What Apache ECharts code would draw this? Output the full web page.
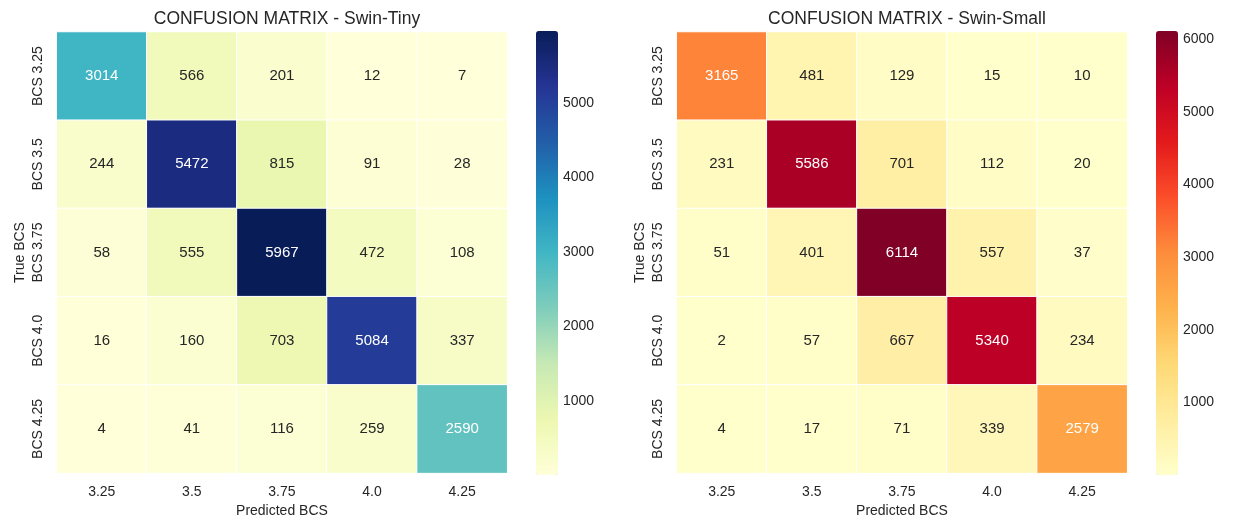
<!DOCTYPE html>
<html>
<head>
<meta charset="utf-8">
<script src="https://cdn.jsdelivr.net/npm/echarts@6/dist/echarts.min.js"></script>
<style>
  html, body { margin: 0; padding: 0; background: #ffffff; }
  #chart { width: 1240px; height: 523px; }
</style>
</head>
<body>
<div id="chart"></div>
<script>
// Class labels
const predLabels = ['3.25', '3.5', '3.75', '4.0', '4.25'];
const trueLabels = ['BCS 3.25', 'BCS 3.5', 'BCS 3.75', 'BCS 4.0', 'BCS 4.25'];

// Confusion matrices (rows = true class, columns = predicted class)
const swinTiny = [
  [3014, 566, 201, 12, 7],
  [244, 5472, 815, 91, 28],
  [58, 555, 5967, 472, 108],
  [16, 160, 703, 5084, 337],
  [4, 41, 116, 259, 2590]
];
const swinSmall = [
  [3165, 481, 129, 15, 10],
  [231, 5586, 701, 112, 20],
  [51, 401, 6114, 557, 37],
  [2, 57, 667, 5340, 234],
  [4, 17, 71, 339, 2579]
];

// Colour-bar tick values
const tinyTicks = [1000, 2000, 3000, 4000, 5000];
const smallTicks = [1000, 2000, 3000, 4000, 5000, 6000];

// ColorBrewer sequential palettes
const YlGnBu = ['#ffffd9', '#edf8b1', '#c7e9b4', '#7fcdbb', '#41b6c4', '#1d91c0', '#225ea8', '#253494', '#081d58'];
const YlOrRd = ['#ffffcc', '#ffeda0', '#fed976', '#feb24c', '#fd8d3c', '#fc4e2a', '#e31a1c', '#bd0026', '#800026'];

const FONT = "'Liberation Sans', Arial, sans-serif";
const DARK = '#262626';

function hexToRgb(h) {
  return [parseInt(h.slice(1, 3), 16), parseInt(h.slice(3, 5), 16), parseInt(h.slice(5, 7), 16)];
}
function sample(palette, t) {
  t = Math.max(0, Math.min(1, t));
  const p = t * (palette.length - 1);
  const i = Math.min(Math.floor(p), palette.length - 2);
  const f = p - i;
  const a = hexToRgb(palette[i]), b = hexToRgb(palette[i + 1]);
  return a.map((v, k) => v + (b[k] - v) * f);
}
function luminance(rgb) {
  const lin = rgb.map(c => {
    c /= 255;
    return c <= 0.03928 ? c / 12.92 : Math.pow((c + 0.055) / 1.055, 2.4);
  });
  return 0.2126 * lin[0] + 0.7152 * lin[1] + 0.0722 * lin[2];
}
function flatMin(m) { return Math.min(...m.flat()); }
function flatMax(m) { return Math.max(...m.flat()); }

// Build heatmap items with a readable label colour per cell
function cells(matrix, palette) {
  const lo = flatMin(matrix), hi = flatMax(matrix);
  const out = [];
  matrix.forEach((row, r) => row.forEach((v, c) => {
    const L = luminance(sample(palette, (v - lo) / (hi - lo)));
    out.push({ value: [c, r, v], label: { color: L < 0.5 ? '#ffffff' : DARK } });
  }));
  return out;
}

const plotTop = 32, plotH = 443, plotW = 450.5;
const panels = [
  { title: 'CONFUSION MATRIX - Swin-Tiny', matrix: swinTiny, palette: YlGnBu, ticks: tinyTicks, left: 56.7, barLeft: 536 },
  { title: 'CONFUSION MATRIX - Swin-Small', matrix: swinSmall, palette: YlOrRd, ticks: smallTicks, left: 676.7, barLeft: 1156 }
];

const option = {
  backgroundColor: '#ffffff',
  animation: false,
  textStyle: { fontFamily: FONT },
  title: panels.map(p => ({
    text: p.title,
    left: p.left + plotW / 2,
    textAlign: 'center',
    top: 5,
    textStyle: { fontFamily: FONT, fontSize: 17.5, fontWeight: 'normal', color: DARK }
  })),
  grid: [],
  xAxis: [],
  yAxis: [],
  visualMap: [],
  series: []
};

panels.forEach((p, i) => {
  // heatmap grid
  option.grid.push({ left: p.left, top: plotTop, width: plotW, height: plotH, containLabel: false });
  option.xAxis.push({
    type: 'category', gridIndex: 2 * i, data: predLabels, position: 'bottom',
    axisLine: { show: false }, axisTick: { show: false }, splitLine: { show: false },
    axisLabel: { fontFamily: FONT, fontSize: 14, color: DARK, margin: 12 },
    name: 'Predicted BCS', nameLocation: 'middle', nameGap: 30,
    nameTextStyle: { fontFamily: FONT, fontSize: 14, color: DARK }
  });
  option.yAxis.push({
    type: 'category', gridIndex: 2 * i, data: trueLabels, inverse: true,
    axisLine: { show: false }, axisTick: { show: false }, splitLine: { show: false },
    axisLabel: { fontFamily: FONT, fontSize: 14, color: DARK, rotate: 90, margin: 12 },
    name: 'True BCS', nameLocation: 'middle', nameRotate: 90, nameGap: 30,
    nameTextStyle: { fontFamily: FONT, fontSize: 14, color: DARK }
  });

  // colour-bar axis grid
  const lo = flatMin(p.matrix), hi = flatMax(p.matrix);
  option.grid.push({ left: p.barLeft, top: plotTop - 1, width: 22, height: plotH + 1, containLabel: false });
  option.xAxis.push({ type: 'value', gridIndex: 2 * i + 1, show: false });
  option.yAxis.push({
    type: 'value', gridIndex: 2 * i + 1, position: 'right', min: lo, max: hi,
    axisLine: { show: false }, splitLine: { show: false },
    axisTick: { show: true, length: 5, customValues: p.ticks, lineStyle: { color: DARK, width: 1 } },
    axisLabel: { fontFamily: FONT, fontSize: 14, color: DARK, margin: 5, customValues: p.ticks, formatter: v => String(v) }
  });

  option.visualMap.push({
    type: 'continuous', seriesIndex: i, min: lo, max: hi, dimension: 2,
    calculable: false, hoverLink: false, orient: 'vertical',
    left: p.barLeft, top: plotTop - 1, itemWidth: 22, itemHeight: plotH + 1,
    padding: 0, text: null, showLabel: false,
    inRange: { color: p.palette }
  });

  option.series.push({
    type: 'heatmap', xAxisIndex: 2 * i, yAxisIndex: 2 * i,
    data: cells(p.matrix, p.palette),
    itemStyle: { borderColor: '#ffffff', borderWidth: 1 },
    label: { show: true, fontFamily: FONT, fontSize: 15, formatter: d => d.value[2] },
    emphasis: { disabled: true }
  });
});

const chart = echarts.init(document.getElementById('chart'), null, { renderer: 'canvas' });
chart.setOption(option);
</script>
</body>
</html>
